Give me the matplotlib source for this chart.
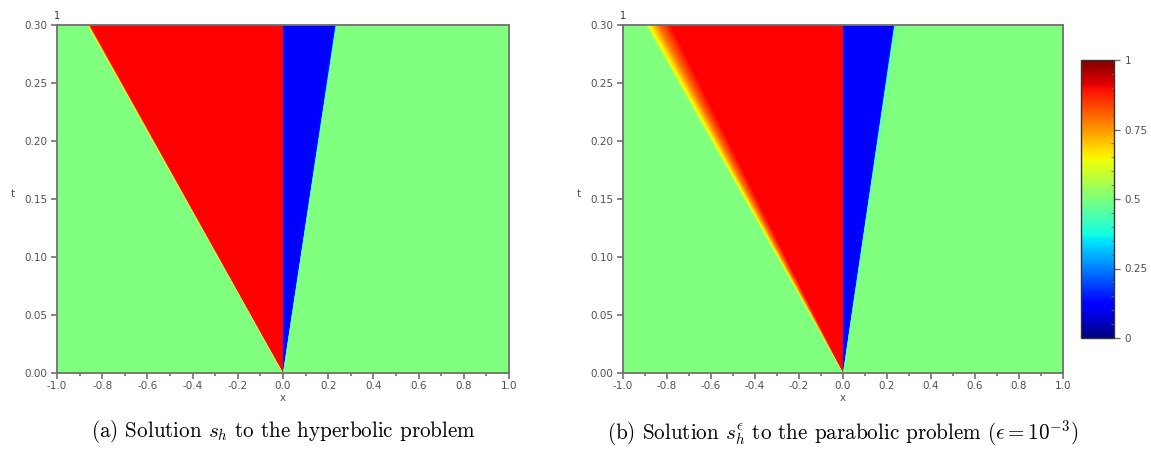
import numpy as np
import matplotlib
matplotlib.use("Agg")
import matplotlib.pyplot as plt
from matplotlib.colors import Normalize, LinearSegmentedColormap
from matplotlib.colorbar import ColorbarBase
from matplotlib.ticker import MultipleLocator

plt.rcParams['mathtext.fontset'] = 'cm'

# profile s(x/t): similarity variable xi = x/t and value s
t_end = 0.30
# hyperbolic solution: sharp fronts (slightly smeared by the scheme)
xi_hyp = [-5.0, -2.89, -2.85, 0.0, 0.0, 0.77, 0.79, 5.0]
s_hyp = [0.5, 0.5, 1.0, 1.0, 0.0, 0.0, 0.5, 0.5]
# parabolic solution: smeared left front, faint layer right of the blue band
xi_par = [-5.0, -3.0, -2.94, -2.80, -2.60, 0.0, 0.0, 0.77, 0.79, 0.95, 5.0]
s_par = [0.5, 0.5, 0.68, 0.86, 1.0, 1.0, 0.0, 0.0, 0.48, 0.5, 0.5]

x_ticks = [-1.0, -0.8, -0.6, -0.4, -0.2, 0.0, 0.2, 0.4, 0.6, 0.8, 1.0]
t_ticks = [0.00, 0.05, 0.10, 0.15, 0.20, 0.25, 0.30]
cb_ticks = [0, 0.25, 0.5, 0.75, 1]
cb_labels = ['0', '0.25', '0.5', '0.75', '1']

captions = [r'(a) Solution $s_h$ to the hyperbolic problem',
            r'(b) Solution $s_h^{\epsilon}$ to the parabolic problem ($\epsilon=10^{-3}$)']

tick_col = '#505050'
spine_col = '#707070'
W, H = 1151, 450

# colours of the plotted field (pure blue / light green / pure red)
field_cmap = LinearSegmentedColormap.from_list('field', [
    (0.0, '#0000ff'), (0.25, '#00ffff'), (0.5, '#80ff80'),
    (0.68, '#ffff00'), (0.85, '#ff8000'), (1.0, '#ff0000')])


def field(xi_pts, s_pts, nx, nt, sub=4):
    # fine grid, then block average (anti-aliased fronts like the original)
    x = -1 + (np.arange(nx * sub) + 0.5) * 2.0 / (nx * sub)
    t = (np.arange(nt * sub) + 0.5) * t_end / (nt * sub)
    X, T = np.meshgrid(x, t)
    S = np.interp(X / T, xi_pts, s_pts)
    return S.reshape(nt, sub, nx, sub).mean(axis=(1, 3))


def draw_panel(ax, xi_pts, s_pts, caption, nx, nt):
    S = field(xi_pts, s_pts, nx, nt)
    ax.imshow(S, origin='lower', extent=[-1, 1, 0, t_end], aspect='auto',
              cmap=field_cmap, vmin=0, vmax=1, interpolation='nearest')
    ax.set_xlim(-1, 1)
    ax.set_ylim(0, t_end)
    ax.set_xticks(x_ticks)
    ax.set_xticklabels([f'{v:.1f}' for v in x_ticks])
    ax.xaxis.set_minor_locator(MultipleLocator(0.1))
    ax.set_yticks(t_ticks)
    ax.set_yticklabels([f'{v:.2f}' for v in t_ticks])
    ax.tick_params(which='both', colors=spine_col, labelcolor=tick_col,
                   labelsize=7.5, length=4, width=1.2, pad=2)
    ax.tick_params(which='minor', length=2.5)
    ax.tick_params(axis='y', pad=3)
    for sp in ax.spines.values():
        sp.set_color(spine_col)
        sp.set_linewidth(1.3)
    ax.set_xlabel('x', fontsize=7.5, color=tick_col, labelpad=1)
    ax.set_ylabel('t', fontsize=7.5, color=tick_col, rotation=0, labelpad=8)
    ax.text(0.0, 1.012, '1', transform=ax.transAxes, fontsize=7, color='#333333',
            ha='center', va='bottom')
    ax.text(0.5, -0.13, caption, transform=ax.transAxes, ha='center', va='top',
            fontsize=15.2, family='cmr10')


fig = plt.figure(figsize=(W / 100, H / 100), dpi=100)
ax1 = fig.add_axes([57 / W, 1 - 373 / H, 452 / W, 348 / H])
ax2 = fig.add_axes([623 / W, 1 - 373 / H, 440 / W, 348 / H])
cax = fig.add_axes([1081 / W, 1 - 338 / H, 33 / W, 278 / H])

draw_panel(ax1, xi_hyp, s_hyp, captions[0], 452, 348)
draw_panel(ax2, xi_par, s_par, captions[1], 440, 348)

cb = ColorbarBase(cax, cmap=plt.get_cmap('jet'), norm=Normalize(0, 1))
cb.set_ticks(cb_ticks)
cb.set_ticklabels(cb_labels)
cb.ax.yaxis.set_minor_locator(MultipleLocator(0.05))
cb.ax.tick_params(which='major', labelsize=7.5, labelcolor=tick_col, colors=spine_col,
                  length=4, width=1.0)
cb.ax.tick_params(which='minor', direction='in', length=2.5, colors=spine_col)
cb.outline.set_edgecolor('#333333')
cb.outline.set_linewidth(1.0)

fig.savefig('out.png', dpi=100)
